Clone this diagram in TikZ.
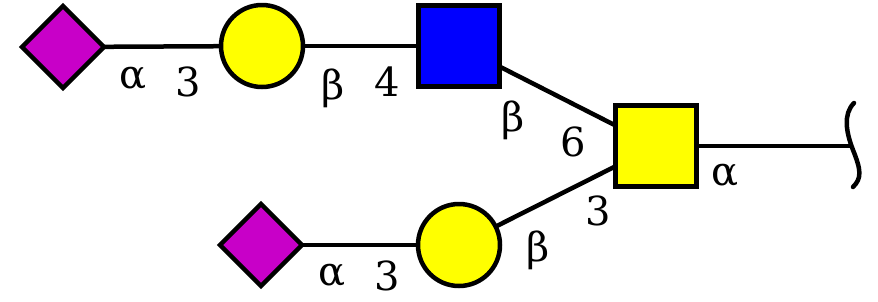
\documentclass[tikz,border=0pt]{standalone}
\usepackage{fontspec}
\setmainfont{DejaVu Serif}
\newfontfamily\lblfont{DejaVu Serif}
\usetikzlibrary{shapes.geometric}
\definecolor{sialic}{RGB}{200,0,200}
\definecolor{galyel}{RGB}{255,255,0}
\definecolor{glcblue}{RGB}{0,0,255}
\tikzset{
  sym/.style={draw=black, line width=4.5pt, inner sep=0pt, outer sep=0pt},
  neuac/.style={sym, diamond, aspect=1, fill=sialic, minimum width=82pt, minimum height=82pt},
  galc/.style={sym, circle, fill=galyel, minimum size=82pt},
  sqbox/.style={sym, rectangle, minimum size=81pt},
  bond/.style={line width=4.5pt},
  lbl/.style={inner sep=0pt, font=\lblfont\fontsize{40}{40}\selectfont}
}
\begin{document}
\begin{tikzpicture}[x=1pt,y=-1pt]
\useasboundingbox (0,0) rectangle (878,301);
% residues
\node[neuac] (d1) at (63,47) {};
\node[galc] (c1) at (262,46) {};
\node[sqbox, fill=glcblue] (s1) at (459,46) {};
\node[sqbox, fill=galyel] (s2) at (656,146) {};
\node[neuac] (d2) at (261,245) {};
\node[galc] (c2) at (459,245) {};
\coordinate (red) at (852,146);
% bonds
\draw[bond] (d1) -- (c1);
\draw[bond] (c1) -- (s1);
\draw[bond] (s1) -- (s2);
\draw[bond] (d2) -- (c2);
\draw[bond] (c2) -- (s2);
\draw[bond] (s2) -- (red);
% reducing-end bracket
\draw[line width=4.5pt, line cap=round] (854,103) .. controls (843,114) and (846,132) .. (853,150) .. controls (861,170) and (862,178) .. (853,187);
% labels
\node[lbl] (a1) at (133,78) {α};
\node[lbl] (n1) at (188,82) {3};
\node[lbl] (b1) at (333,88) {β};
\node[lbl] (n2) at (387,82) {4};
\node[lbl] (b2) at (513,120) {β};
\node[lbl] (n3) at (573,142) {6};
\node[lbl] (a2) at (725,175) {α};
\node[lbl] (b3) at (538,250) {β};
\node[lbl] (n4) at (598,211) {3};
\node[lbl] (a3) at (332,275) {α};
\node[lbl] (n5) at (387,276) {3};
\end{tikzpicture}
\end{document}
